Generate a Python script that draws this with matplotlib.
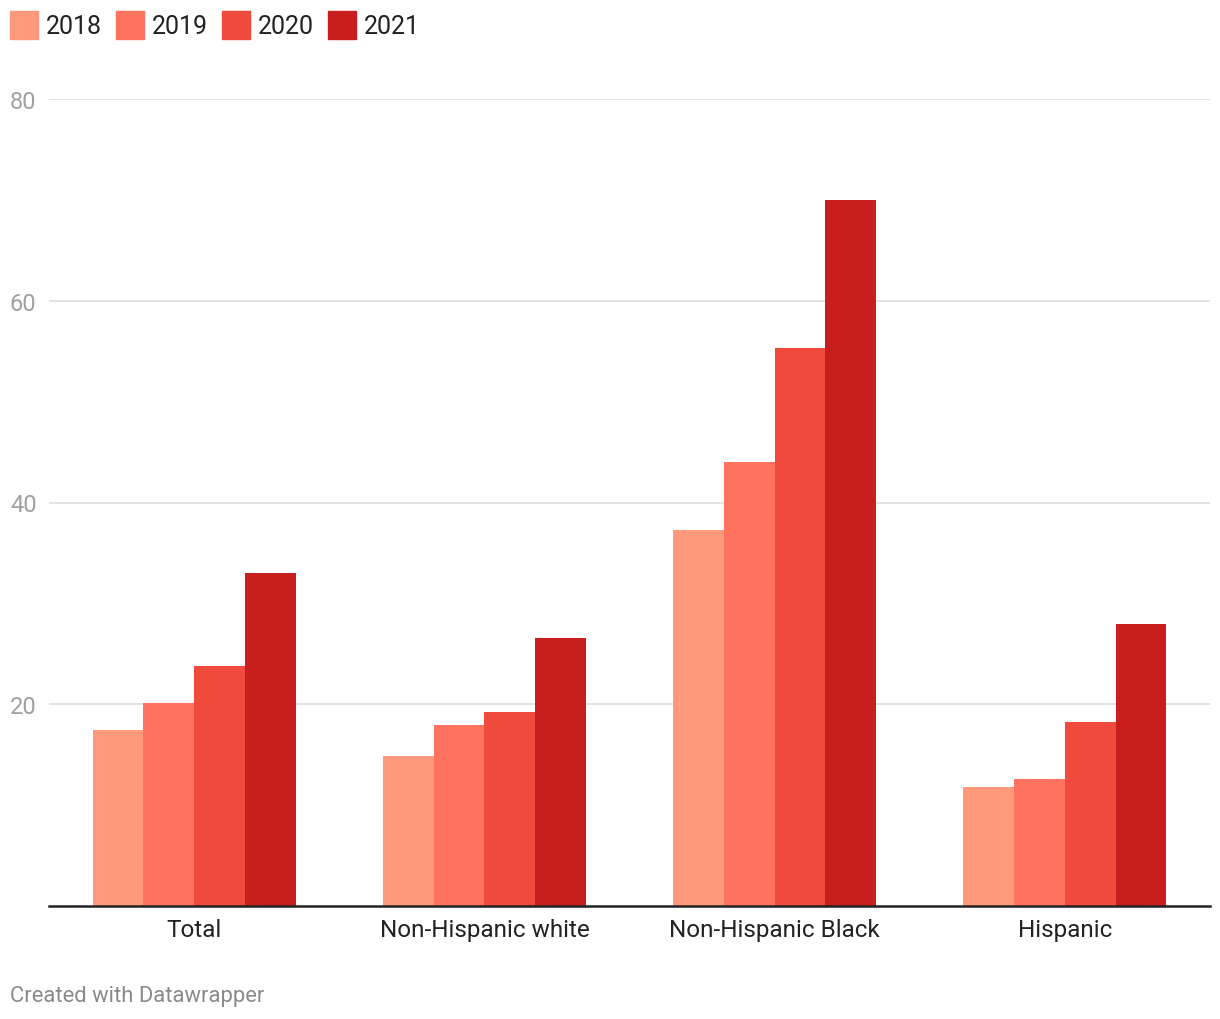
import numpy as np
import matplotlib.pyplot as plt
from matplotlib.patches import Rectangle

plt.rcParams['font.family'] = ['Roboto', 'DejaVu Sans']

groups = ['Total', 'Non-Hispanic white', 'Non-Hispanic Black', 'Hispanic']
years = ['2018', '2019', '2020', '2021']
v2018 = [17.4, 14.9, 37.3, 11.8]
v2019 = [20.1, 17.9, 44.0, 12.6]
v2020 = [23.8, 19.2, 55.3, 18.2]
v2021 = [33.0, 26.6, 70.0, 28.0]
colors = ['#ff997c', '#ff735e', '#ef4a3c', '#c81e1e']

fig = plt.figure(figsize=(12.2, 10.2), dpi=100)
ax = fig.add_axes([49/1220, 113/1020, 1161/1220, 807/1020])

x = np.arange(len(groups))
w = 0.175
series = [v2018, v2019, v2020, v2021]
for i, vals in enumerate(series):
    ax.bar(x + (i - 1.5)*w, vals, width=w, color=colors[i], linewidth=0, zorder=3)

ax.set_xlim(-0.5, 3.5)
ax.set_ylim(0, 80)
ax.set_yticks([20, 40, 60, 80])
ax.yaxis.grid(True, color='#e0e0e0', linewidth=1.3, zorder=0)
for s in ['top', 'right', 'left']:
    ax.spines[s].set_visible(False)
ax.spines['bottom'].set_color('#222222')
ax.spines['bottom'].set_linewidth(1.8)
ax.spines['bottom'].set_zorder(4)
ax.tick_params(axis='y', length=0, labelsize=17, labelcolor='#a0a0a0', pad=0)
for lab in ax.get_yticklabels():
    lab.set_horizontalalignment('left')
    lab.set_x(-39/1161)
ax.set_xticks(x)
ax.set_xticklabels(groups)
ax.tick_params(axis='x', length=0, labelsize=17.5, labelcolor='#222222', pad=9)

# legend
lx = 10
for i, yr in enumerate(years):
    fig.patches.append(Rectangle((lx/1220, 1 - 40/1020), 28/1220, 28/1020,
                                 transform=fig.transFigure, color=colors[i]))
    fig.text((lx + 36)/1220, 1 - 27/1020, yr, fontsize=18, color='#222222',
             va='center', ha='left')
    lx += 106

fig.text(10/1220, 1 - 997/1020, 'Created with Datawrapper', fontsize=15.8,
         color='#8a8a8a', va='center', ha='left')

fig.savefig('out.png', dpi=100)
